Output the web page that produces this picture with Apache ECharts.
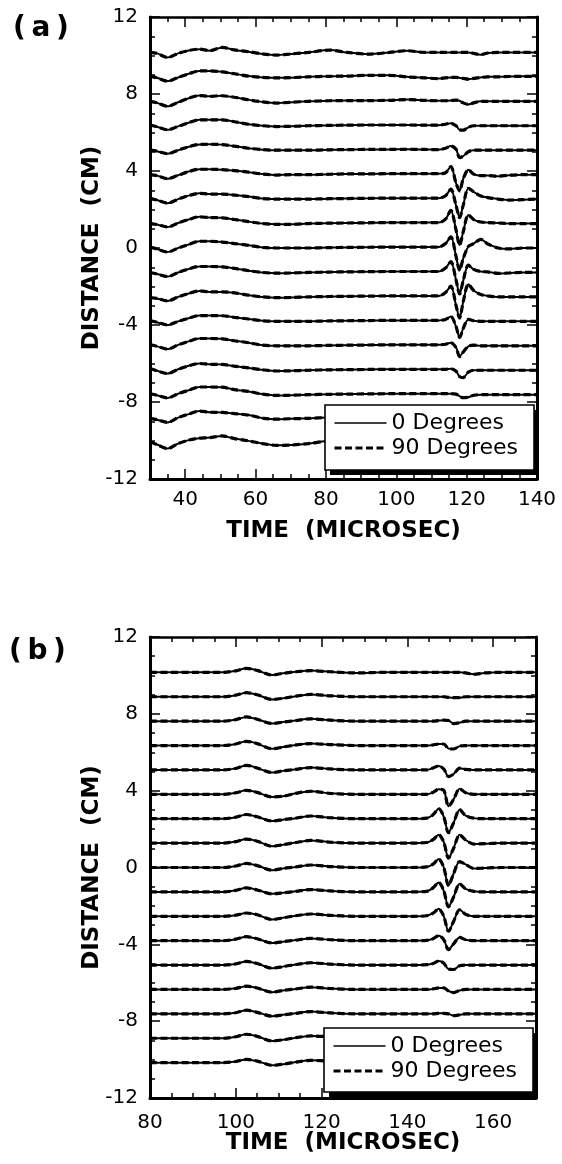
<!DOCTYPE html>
<html>
<head>
<meta charset="utf-8">
<script src="https://cdn.jsdelivr.net/npm/echarts@6/dist/echarts.min.js"></script>
<style>
html, body { margin: 0; padding: 0; background: #fff; }
#chart { width: 562px; height: 1164px; }
</style>
</head>
<body>
<div id="chart"></div>
<script>
// distance of each receiver trace (cm), top to bottom
var distances = [10.16, 8.89, 7.62, 6.35, 5.08, 3.81, 2.54, 1.27, 0, -1.27, -2.54, -3.81, -5.08, -6.35, -7.62, -8.89, -10.16];

// sample times (microsec)
var timeA = [30, 32, 35, 38, 41, 44, 47, 50.5, 54, 58, 62, 66, 70, 75, 81, 86, 92, 98, 103, 108,
             112, 114, 115.5, 117, 118, 119, 120.5, 122, 124, 126, 129, 132, 136, 140];
var timeB = [80, 90, 97, 100, 102.5, 105, 108.5, 111, 114, 117.5, 122, 128, 135, 141,
             144.5, 146, 147.3, 148.5, 149.6, 150.8, 152.2, 153.6, 155.5, 158, 162, 166, 170];

// wiggle of each trace about its distance (cm), panel (a), 0 degrees
var waveA = [
  [0, -0.05, -0.26, -0.05, 0.10, 0.17, 0.09, 0.26, 0.13, 0.04, -0.08, -0.14, -0.08, 0, 0.12, 0, -0.09, 0, 0.09, 0, 0, 0, 0, 0, 0, 0, 0, -0.05, -0.12, -0.03, 0, 0, 0, 0],
  [0.04, -0.05, -0.22, -0.03, 0.16, 0.31, 0.31, 0.26, 0.16, 0.04, -0.03, -0.05, -0.04, 0, 0.03, 0.04, 0.08, 0.08, 0, -0.05, -0.09, -0.05, -0.03, -0.03, -0.05, -0.08, -0.12, -0.08, -0.03, 0, 0, 0.02, 0.03, 0.03],
  [0, -0.08, -0.26, -0.05, 0.16, 0.30, 0.26, 0.29, 0.21, 0.08, -0.03, -0.09, -0.05, 0, 0.03, 0.04, 0.04, 0.05, 0.09, 0.05, 0.03, 0.03, 0.04, 0.06, 0.03, -0.08, -0.16, -0.08, 0, 0, 0, 0, 0, 0],
  [0.04, -0.05, -0.21, -0.03, 0.16, 0.31, 0.31, 0.31, 0.21, 0.08, 0, -0.04, -0.03, 0, 0.02, 0.03, 0.04, 0.04, 0.04, 0.03, 0.03, 0.08, 0.13, 0, -0.21, -0.23, -0.08, 0, 0, 0, 0, 0, 0, 0],
  [0, -0.05, -0.18, 0, 0.18, 0.30, 0.31, 0.29, 0.21, 0.10, 0.03, 0, 0, 0, 0.02, 0.03, 0.04, 0.04, 0.05, 0.04, 0.03, 0.10, 0.22, 0.05, -0.38, -0.31, -0.08, 0, 0, 0, 0, 0, 0, 0],
  [0, -0.05, -0.21, -0.03, 0.16, 0.28, 0.28, 0.26, 0.21, 0.13, 0.03, -0.02, 0, 0, 0.02, 0.04, 0.04, 0.05, 0.05, 0.05, 0.05, 0.10, 0.42, -0.45, -0.84, -0.23, 0.25, 0.03, -0.05, -0.05, -0.08, -0.03, 0, 0],
  [0.04, -0.05, -0.21, 0, 0.18, 0.30, 0.26, 0.26, 0.21, 0.13, 0.03, 0, 0, 0, 0.02, 0.03, 0.04, 0.05, 0.05, 0.05, 0.05, 0.17, 0.52, -0.34, -0.96, -0.34, 0.56, 0.38, 0.16, 0.08, 0, -0.05, -0.03, 0],
  [0, -0.05, -0.18, 0.03, 0.21, 0.35, 0.31, 0.30, 0.21, 0.10, 0, -0.04, -0.04, 0, 0.02, 0.03, 0.04, 0.05, 0.05, 0.05, 0.05, 0.23, 0.68, -0.34, -1.12, -0.45, 0.45, 0.21, 0.08, 0.05, 0.03, 0, 0, 0],
  [0.05, -0.05, -0.21, 0, 0.18, 0.35, 0.35, 0.31, 0.23, 0.14, 0.03, 0, 0, 0, 0.02, 0.03, 0.04, 0.05, 0.05, 0.05, 0.05, 0.23, 0.58, -0.45, -1.16, -0.56, 0.08, 0.23, 0.45, 0.21, 0, -0.05, 0, 0],
  [0, -0.08, -0.21, 0, 0.18, 0.31, 0.31, 0.29, 0.21, 0.09, 0, -0.04, -0.03, 0, 0.02, 0.03, 0.04, 0.05, 0.05, 0.05, 0.05, 0.23, 0.56, -0.40, -1.12, -0.45, 0.38, 0.16, 0.05, 0.03, -0.05, -0.03, 0, 0],
  [-0.04, -0.08, -0.21, 0, 0.18, 0.31, 0.26, 0.26, 0.21, 0.09, 0, -0.04, -0.03, 0, 0.02, 0.03, 0.04, 0.05, 0.05, 0.05, 0.05, 0.23, 0.56, -0.45, -1.10, -0.28, 0.66, 0.33, 0.13, 0.05, 0, 0, 0, 0],
  [0.04, -0.05, -0.19, 0, 0.16, 0.30, 0.30, 0.29, 0.21, 0.12, 0.03, 0, 0, 0, 0.02, 0.03, 0.04, 0.05, 0.05, 0.05, 0.05, 0.10, 0.25, -0.28, -0.84, -0.38, 0.10, 0.03, 0, 0, 0, 0, 0, 0],
  [0.07, -0.03, -0.17, 0.05, 0.23, 0.38, 0.38, 0.36, 0.26, 0.16, 0.03, 0, 0, 0, 0.02, 0.03, 0.04, 0.05, 0.05, 0.05, 0.05, 0.08, 0.16, -0.10, -0.56, -0.33, -0.03, 0.03, 0, 0, 0, 0, 0, 0],
  [0.09, -0.03, -0.17, 0.05, 0.23, 0.35, 0.31, 0.30, 0.21, 0.12, 0.02, -0.04, -0.03, 0, 0.02, 0.03, 0.04, 0.05, 0.05, 0.05, 0.05, 0.05, 0.08, -0.05, -0.33, -0.38, -0.10, 0, 0, 0, 0, 0, 0, 0],
  [0.05, -0.03, -0.17, 0.05, 0.23, 0.40, 0.40, 0.39, 0.26, 0.17, 0.03, -0.04, -0.03, 0, 0.02, 0.03, 0.04, 0.05, 0.05, 0.05, 0.05, 0.05, 0.05, 0.03, -0.08, -0.16, -0.13, -0.03, 0, 0, 0, 0, 0, 0],
  [0.04, -0.03, -0.17, 0.08, 0.26, 0.42, 0.36, 0.35, 0.29, 0.21, 0.05, 0, 0.02, 0.04, 0.08, 0.08, 0.05, 0.05, 0.05, 0.05, 0.05, 0.05, 0.05, 0.05, 0.05, 0.03, 0, 0, 0, 0, 0, 0, 0, 0],
  [0.09, -0.05, -0.26, 0, 0.18, 0.28, 0.31, 0.40, 0.26, 0.14, 0, -0.09, -0.08, 0, 0.13, 0.10, 0.05, 0.05, 0.05, 0.05, 0.05, 0.05, 0.05, 0.05, 0.05, 0.03, 0, 0, 0, 0, 0, 0, 0, 0]
];

// panel (b), 0 degrees
var waveB = [
  [0, 0, 0, 0.08, 0.21, 0.10, -0.14, -0.05, 0.03, 0.09, 0.03, -0.03, 0, 0, 0, 0, 0, 0, 0, 0, 0, -0.03, -0.10, -0.03, 0, 0, 0],
  [0, 0, 0, 0.08, 0.21, 0.10, -0.14, -0.08, 0.03, 0.12, 0.05, 0, 0, 0, 0, 0, 0, 0, -0.03, -0.05, -0.05, 0, 0, 0, 0, 0, 0],
  [0, 0, 0, 0.08, 0.22, 0.10, -0.12, -0.05, 0.03, 0.12, 0.05, 0, 0, 0, 0, 0, 0.03, 0.05, 0.03, -0.13, -0.08, 0, 0, 0, 0, 0, 0],
  [0, 0, 0, 0.08, 0.22, 0.10, -0.17, -0.08, 0.03, 0.10, 0.05, 0, 0, 0, 0, 0.03, 0.08, 0.08, -0.16, -0.18, -0.03, 0, 0, 0, 0, 0, 0],
  [0, 0, 0, 0.08, 0.24, 0.10, -0.14, -0.05, 0.03, 0.12, 0.05, 0, 0, 0, 0, 0.10, 0.21, 0.05, -0.35, -0.21, 0.09, 0.03, 0, 0, 0, 0, 0],
  [0, 0, 0, 0.08, 0.21, 0.10, -0.14, -0.10, 0.05, 0.16, 0.05, 0, 0, 0, 0, 0.10, 0.26, 0.21, -0.62, -0.26, 0.29, 0.08, 0, 0, 0, 0, 0],
  [0, 0, 0, 0.08, 0.22, 0.10, -0.12, -0.05, 0.03, 0.14, 0.05, 0, 0, 0, 0.03, 0.21, 0.52, 0.10, -0.73, -0.21, 0.47, 0.16, 0.03, 0, 0, 0, 0],
  [0, 0, 0, 0.08, 0.21, 0.10, -0.17, -0.08, 0.03, 0.14, 0.05, 0, 0, 0, 0.03, 0.18, 0.43, 0.05, -0.78, -0.26, 0.43, 0.16, -0.05, -0.03, 0, 0, 0],
  [0, 0, 0, 0.08, 0.21, 0.10, -0.14, -0.05, 0.03, 0.13, 0.05, 0, 0, 0, 0.03, 0.18, 0.44, 0, -0.94, -0.31, 0.31, 0.16, -0.05, -0.03, 0, 0, 0],
  [0, 0, 0, 0.08, 0.21, 0.10, -0.10, -0.05, 0.03, 0.12, 0.05, 0, 0, 0, 0.03, 0.21, 0.49, 0.05, -0.78, -0.26, 0.42, 0.16, 0.03, 0, 0, 0, 0],
  [0, 0, 0, 0.06, 0.17, 0.08, -0.17, -0.08, 0.03, 0.12, 0.05, 0, 0, 0, 0.03, 0.16, 0.39, 0, -0.78, -0.26, 0.34, 0.10, 0, 0, 0, 0, 0],
  [0, 0, 0, 0.08, 0.21, 0.10, -0.12, -0.05, 0.03, 0.12, 0.05, 0, 0, 0, 0.02, 0.10, 0.26, 0.05, -0.47, -0.16, 0.17, 0.05, 0, 0, 0, 0, 0],
  [0, 0, 0, 0.06, 0.19, 0.08, -0.16, -0.08, 0.03, 0.12, 0.05, 0, 0, 0, 0.02, 0.08, 0.21, 0.10, -0.21, -0.23, -0.03, 0, 0, 0, 0, 0, 0],
  [0, 0, 0, 0.06, 0.17, 0.08, -0.14, -0.05, 0.03, 0.12, 0.05, 0, 0, 0, 0, 0.03, 0.08, 0.08, -0.08, -0.16, -0.05, 0, 0, 0, 0, 0, 0],
  [0, 0, 0, 0.06, 0.19, 0.08, -0.12, -0.05, 0.03, 0.12, 0.05, 0, 0, 0, 0, 0, 0.03, 0.03, 0, -0.09, -0.05, 0, 0, 0, 0, 0, 0],
  [0, 0, 0, 0.08, 0.21, 0.10, -0.14, -0.08, 0.03, 0.12, 0.08, 0.03, 0, 0, 0, 0, 0, 0, 0, 0, 0, 0, 0, 0, 0, 0, 0],
  [0, 0, 0, 0.06, 0.17, 0.08, -0.14, -0.08, 0.03, 0.12, 0.08, 0.03, 0, 0, 0, 0, 0, 0, 0, 0, 0, 0, 0, 0, 0, 0, 0]
];

// the 90 degree records lie on the 0 degree ones to within the line width
var waveA90 = waveA;
var waveB90 = waveB;

var xLabelsA = [40, 60, 80, 100, 120, 140];
var xLabelsB = [80, 100, 120, 140, 160];
var legendNames = ['0 Degrees', '90 Degrees'];

var FONT = 'DejaVu Sans';
var solidLine = { color: '#000', width: 2, type: 'solid' };
var dashLine = { color: '#000', width: 3.2, type: [7, 3.5] };

var dom = document.getElementById('chart');
var myChart = echarts.init(dom, null, { renderer: 'canvas' });

function xAxes(g, min, max, labels, labelMargin, nameGap) {
    var common = { gridIndex: g, type: 'value', min: min, max: max, splitLine: { show: false } };
    return [
        // bottom, long ticks + labels + title
        Object.assign({}, common, {
            position: 'bottom',
            axisLine: { onZero: false, lineStyle: { color: '#000', width: 3 } },
            axisTick: { inside: true, length: 10, customValues: labels, lineStyle: { color: '#000', width: 1.5 } },
            axisLabel: { customValues: labels, margin: labelMargin, color: '#000', fontSize: 20, fontFamily: FONT },
            name: 'TIME  (MICROSEC)', nameLocation: 'middle', nameGap: nameGap, nameMoveOverlap: false,
            nameTextStyle: { color: '#000', fontSize: 23, fontWeight: 'bold', fontFamily: FONT }
        }),
        // bottom, short ticks every 5
        Object.assign({}, common, {
            position: 'bottom', interval: 5,
            axisLine: { show: false, onZero: false },
            axisTick: { inside: true, length: 5, lineStyle: { color: '#000', width: 1.5 } },
            axisLabel: { show: false }
        }),
        // top mirror
        Object.assign({}, common, {
            position: 'top',
            axisLine: { onZero: false, lineStyle: { color: '#000', width: 2.5 } },
            axisTick: { inside: true, length: 10, customValues: labels, lineStyle: { color: '#000', width: 1.5 } },
            axisLabel: { show: false }
        }),
        Object.assign({}, common, {
            position: 'top', interval: 5,
            axisLine: { show: false, onZero: false },
            axisTick: { inside: true, length: 5, lineStyle: { color: '#000', width: 1.5 } },
            axisLabel: { show: false }
        })
    ];
}

function yAxes(g) {
    var common = {
        gridIndex: g, type: 'value', min: -12, max: 12, interval: 4,
        splitLine: { show: false },
        axisTick: { inside: true, length: 10, lineStyle: { color: '#000', width: 1.5 } },
        minorTick: { show: true, splitNumber: 4, length: 5, lineStyle: { color: '#000', width: 1.5 } }
    };
    return [
        Object.assign({}, common, {
            position: 'left',
            axisLine: { onZero: false, lineStyle: { color: '#000', width: 3 } },
            axisLabel: { margin: 12, color: '#000', fontSize: 20, fontFamily: FONT },
            name: 'DISTANCE  (CM)', nameLocation: 'middle', nameGap: 46, nameRotate: 90, nameMoveOverlap: false,
            nameTextStyle: { color: '#000', fontSize: 23, fontWeight: 'bold', fontFamily: FONT }
        }),
        Object.assign({}, common, {
            position: 'right',
            axisLine: { onZero: false, lineStyle: { color: '#000', width: 3 } },
            axisLabel: { show: false }
        })
    ];
}

var series = [];
function addTraces(g, times, waves, name, style, z) {
    waves.forEach(function (wave, i) {
        series.push({
            name: name,
            type: 'line',
            xAxisIndex: g * 4,
            yAxisIndex: g * 2,
            symbol: 'none',
            smooth: 0.3,
            silent: true,
            z: z,
            itemStyle: { color: '#000' },
            lineStyle: style,
            data: times.map(function (t, j) { return [t, distances[i] + wave[j]]; })
        });
    });
}
addTraces(0, timeA, waveA, legendNames[0], solidLine, 2);
addTraces(0, timeA, waveA90, legendNames[1], dashLine, 3);
addTraces(1, timeB, waveB, legendNames[0], solidLine, 2);
addTraces(1, timeB, waveB90, legendNames[1], dashLine, 3);

function legendBox(left, top, padBottom) {
    return {
        left: left, top: top,
        orient: 'vertical',
        selectedMode: false,
        itemWidth: 52, itemHeight: 14, itemGap: 3,
        padding: [7, 16, padBottom, 8],
        backgroundColor: '#fff',
        borderColor: '#000', borderWidth: 1.6,
        itemStyle: { opacity: 0 },
        textStyle: { color: '#000', fontSize: 22, fontFamily: FONT },
        data: [
            { name: legendNames[0], lineStyle: { color: '#000', width: 1.5, type: 'solid' } },
            { name: legendNames[1], lineStyle: { color: '#000', width: 3, type: [7, 3.5] } }
        ],
        z: 10
    };
}

// hard drop shadow behind each legend box
function shadowRect(x, y, w, h) {
    return { type: 'rect', silent: true, z: 6, shape: { x: x, y: y, width: w, height: h }, style: { fill: '#000' } };
}

option = {
    animation: false,
    backgroundColor: '#fff',
    textStyle: { fontFamily: FONT },
    title: [
        { text: '(\u2009a\u2009)', left: 8, top: 10, textStyle: { color: '#000', fontSize: 28, fontWeight: 'bold', fontFamily: FONT } },
        { text: '(\u2009b\u2009)', left: 4, top: 633, textStyle: { color: '#000', fontSize: 28, fontWeight: 'bold', fontFamily: FONT } }
    ],
    grid: [
        { left: 150, top: 17, width: 387, height: 462 },
        { left: 150, top: 637, width: 386, height: 461 }
    ],
    legend: [legendBox(325, 405, 11), legendBox(324, 1028, 10)],
    graphic: [shadowRect(330, 410, 208, 65), shadowRect(329, 1033, 208, 64)],
    xAxis: xAxes(0, 30, 140, xLabelsA, 11, 41).concat(xAxes(1, 80, 170, xLabelsB, 15, 34)),
    yAxis: yAxes(0).concat(yAxes(1)),
    series: series
};

if (option && typeof option === 'object') {
    myChart.setOption(option, true);
}
</script>
</body>
</html>
